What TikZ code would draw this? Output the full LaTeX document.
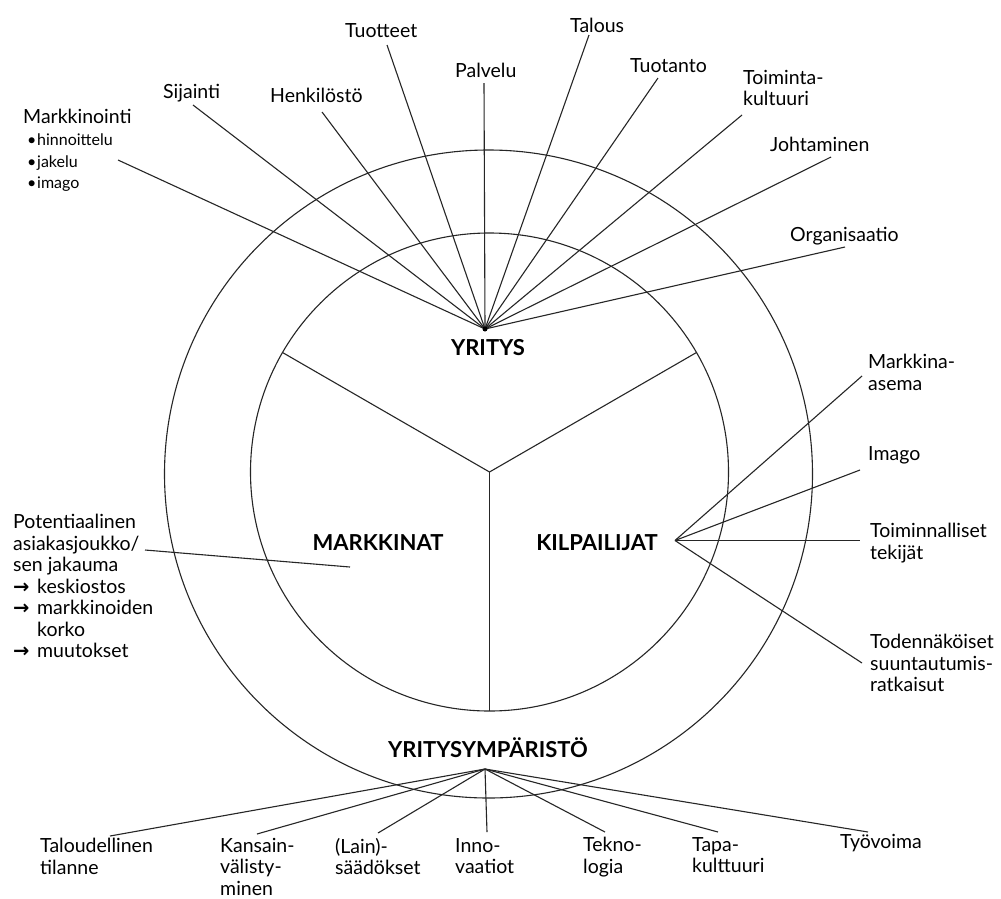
\documentclass[tikz,border=0pt]{standalone}
\usepackage{fontspec}
\setmainfont{Lato}
\newfontfamily\djv{DejaVu Sans}
\newcommand\myarr{\makebox[24pt][l]{\djv\bfseries →}}
\newcommand\mybul{\makebox[10pt][l]{\textbullet}}
\begin{document}
\begin{tikzpicture}[x=1pt,y=-1pt,
  ln/.style={line width=1.1pt, black!85},
  lbl/.style={inner sep=0pt, anchor=base west, font=\fontsize{19.5}{21.5}\selectfont},
  mlbl/.style={inner sep=0pt, anchor=north west, align=left, font=\fontsize{19.5}{21.5}\selectfont},
  head/.style={inner sep=0pt, anchor=base, font=\fontsize{22}{24}\selectfont\bfseries},
]
\useasboundingbox[fill=white] (0,0) rectangle (1001,898);
% circles and sectors
\coordinate (C) at (489.5,472);
\coordinate (CO) at (488.5,474);
\draw[ln] (C) circle[radius=239pt];
\draw[ln] (CO) circle[radius=324pt];
\draw[ln] (C) -- ++(150:239pt);
\draw[ln] (C) -- ++(30:239pt);
\draw[ln] (C) -- ++(270:239pt);
% focus points
\coordinate (F1) at (485,329);
\coordinate (F2) at (675,540.5);
\coordinate (F3) at (485,769);
% headings
\node[head] (yritys) at (488,355) {YRITYS};
\node[head] (markkinat) at (378,550) {MARKKINAT};
\node[head] (kilpailijat) at (597,550) {KILPAILIJAT};
\node[head] (ymparisto) at (488,757) {YRITYSYMPÄRISTÖ};
% top labels
\node[lbl] (markkinointi) at (23,123) {Markkinointi};
\node[inner sep=0pt, anchor=north west, align=left, font=\fontsize{16}{21.5}\selectfont] (bullets) at (27,134)
  {\mybul hinnoittelu\\\mybul jakelu\\\mybul imago};
\node[lbl] (sijainti) at (163,98) {Sijainti};
\node[lbl] (henkilosto) at (270,102) {Henkilöstö};
\node[lbl] (tuotteet) at (345,37) {Tuotteet};
\node[lbl] (palvelu) at (455,77) {Palvelu};
\node[lbl] (talous) at (570,32) {Talous};
\node[lbl] (tuotanto) at (630,72) {Tuotanto};
\node[mlbl] (toiminta) at (743,70) {Toiminta-\\kultuuri};
\node[lbl] (johtaminen) at (770,151) {Johtaminen};
\node[lbl] (organisaatio) at (790,241) {Organisaatio};
% right labels
\node[mlbl] (markkina) at (868,354) {Markkina-\\asema};
\node[lbl] (imago) at (868,460) {Imago};
\node[mlbl] (toiminnalliset) at (870,523) {Toiminnalliset\\tekijät};
\node[mlbl] (todennakoiset) at (870,634) {Todennäköiset\\suuntautumis-\\ratkaisut};
% left label
\node[mlbl] (potentiaalinen) at (13,514) {Potentiaalinen\\asiakasjoukko/\\sen jakauma\\\myarr keskiostos\\\myarr markkinoiden\\\hspace*{24pt}korko\\\myarr muutokset};
% bottom labels
\node[mlbl] (taloudellinen) at (40,838) {Taloudellinen\\tilanne};
\node[mlbl] (kansain) at (220,838) {Kansain-\\välisty-\\minen};
\node[mlbl] (lain) at (335,838) {(Lain)-\\säädökset};
\node[mlbl] (inno) at (455,838) {Inno-\\vaatiot};
\node[mlbl] (tekno) at (583,837) {Tekno-\\logia};
\node[mlbl] (tapa) at (692,837) {Tapa-\\kulttuuri};
\node[lbl] (tyovoima) at (840,848) {Työvoima};
% line ends
\coordinate (e-markkinointi) at (118,160);
\coordinate (e-sijainti) at (193,105);
\coordinate (e-henkilosto) at (322,112);
\coordinate (e-tuotteet) at (387,45);
\coordinate (e-palvelu) at (484,83);
\coordinate (e-talous) at (589,35);
\coordinate (e-tuotanto) at (658,78);
\coordinate (e-toiminta) at (742,115);
\coordinate (e-johtaminen) at (831,157);
\coordinate (e-organisaatio) at (845,247);
\coordinate (e-markkina) at (862,376);
\coordinate (e-imago) at (860,470);
\coordinate (e-toiminnalliset) at (860,540.5);
\coordinate (e-todennakoiset) at (862,663);
\coordinate (e-taloudellinen) at (110,836);
\coordinate (e-kansain) at (257,834);
\coordinate (e-lain) at (378,833);
\coordinate (e-inno) at (487,832);
\coordinate (e-tekno) at (605,832);
\coordinate (e-tapa) at (718,832);
\coordinate (e-tyovoima) at (868,832);
\coordinate (m-start) at (350,567);
\coordinate (e-potentiaalinen) at (145,550);
% connectors
\foreach \n in {markkinointi,sijainti,henkilosto,tuotteet,palvelu,talous,tuotanto,toiminta,johtaminen,organisaatio}
  \draw[ln] (F1) -- (e-\n);
\foreach \n in {markkina,imago,toiminnalliset,todennakoiset}
  \draw[ln] (F2) -- (e-\n);
\foreach \n in {taloudellinen,kansain,lain,inno,tekno,tapa,tyovoima}
  \draw[ln] (F3) -- (e-\n);
\draw[ln] (m-start) -- (e-potentiaalinen);
\fill (F1) circle[radius=2.5pt];
\end{tikzpicture}
\end{document}
